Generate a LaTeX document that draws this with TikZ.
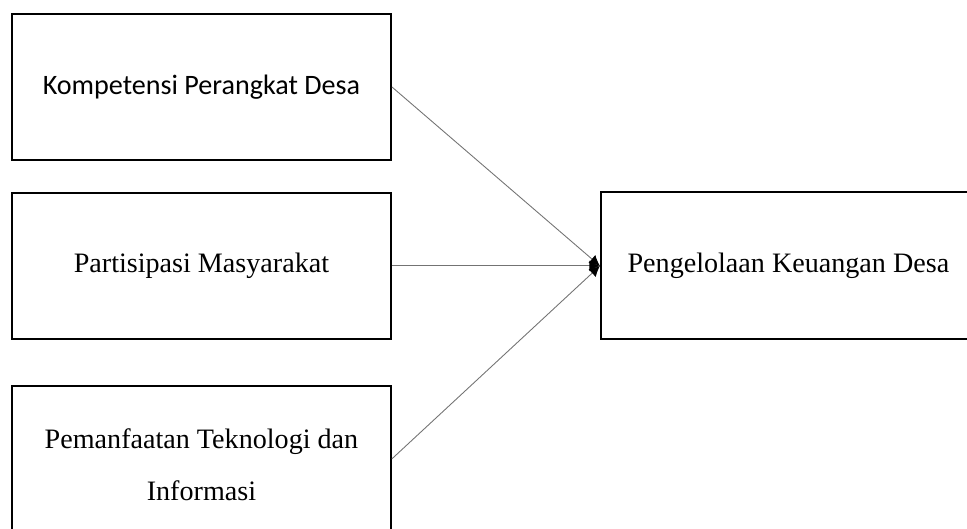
\documentclass[tikz,border=0pt]{standalone}
\usepackage{fontspec}
\setmainfont{Liberation Serif}
\newfontfamily\calibri{Carlito}
\usepackage{xcolor}
\usepackage{tikz}
\usetikzlibrary{arrows.meta, positioning}

\begin{document}
\begin{tikzpicture}[
    box/.style={draw, line width=1.1pt, minimum width=7.58cm, minimum height=2.92cm, align=center, font=\fontsize{16}{19}\selectfont},
    arrow/.style={-{Latex[length=6pt, width=6pt, color=black]}, draw=black!55, line width=0.5pt}
]
    \useasboundingbox (0,0) rectangle (19.34,-10.56);
    \node[box, anchor=north west, font=\calibri\fontsize{16}{19}\selectfont] (kompetensi) at (0.22,-0.26) {Kompetensi Perangkat Desa};
    \node[box, below=0.62cm of kompetensi] (partisipasi) {Partisipasi Masyarakat};
    \node[box, minimum height=3.16cm, below=0.9cm of partisipasi, font=\fontsize{16}{29.5}\selectfont] (teknologi) {Pemanfaatan Teknologi dan\\Informasi};
    \node[box, minimum width=8.2cm, minimum height=2.94cm, right=4.16cm of partisipasi] (keuangan) {Pengelolaan Keuangan Desa\hspace*{0.7cm}};

    \draw[arrow] (kompetensi.east) -- (keuangan.west);
    \draw[arrow] (partisipasi.east) -- (keuangan.west);
    \draw[arrow] ([yshift=0.12cm]teknologi.east) -- (keuangan.west);
\end{tikzpicture}
\end{document}
